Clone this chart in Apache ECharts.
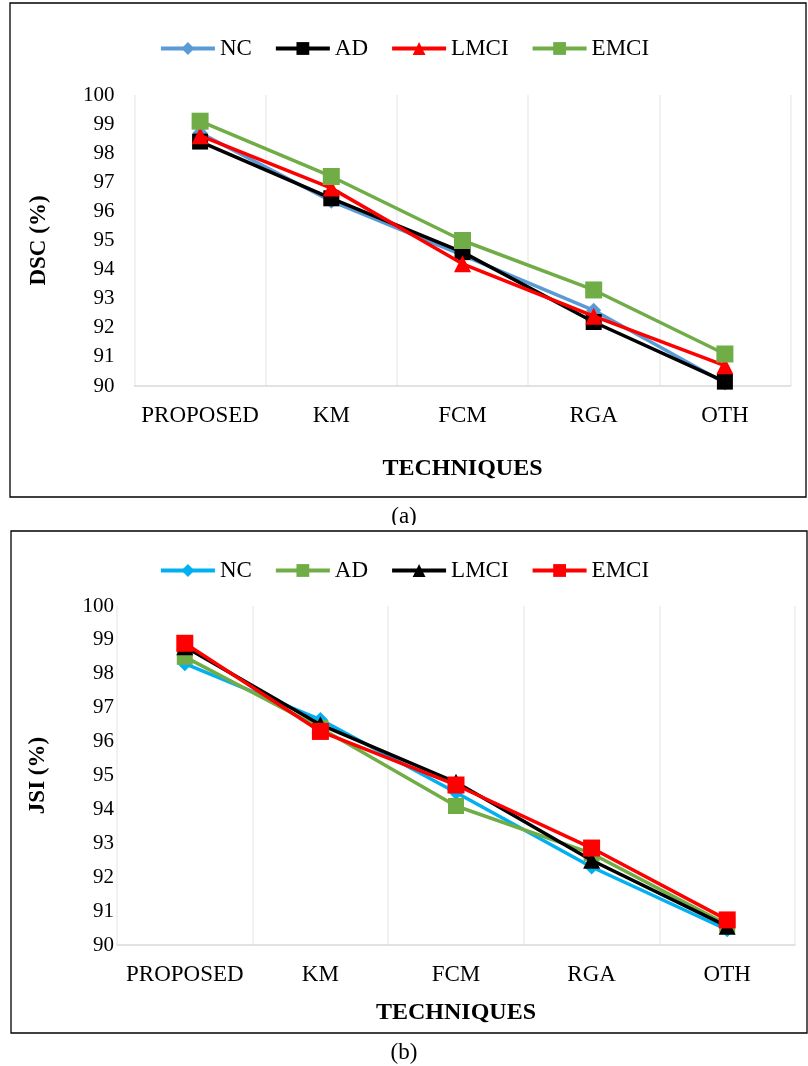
<!DOCTYPE html>
<html><head><meta charset="utf-8">
<script src="https://cdn.jsdelivr.net/npm/echarts@6/dist/echarts.min.js"></script>
<style>body{margin:0;background:#fff;width:808px;height:1066px;overflow:hidden}
#a{position:absolute;left:0;top:0;width:808px;height:525px}
#b{position:absolute;left:0;top:525px;width:808px;height:541px}</style>
</head><body><div id="a"></div><div id="b"></div>
<script>
const categories = ['PROPOSED', 'KM', 'FCM', 'RGA', 'OTH'];
const seriesNames = ['NC', 'AD', 'LMCI', 'EMCI'];
// Chart (a) DSC (%)
const dscNC   = [98.7, 96.35, 94.5, 92.6, 90.1];
const dscAD   = [98.4, 96.45, 94.6, 92.2, 90.15];
const dscLMCI = [98.6, 96.8, 94.2, 92.4, 90.7];
const dscEMCI = [99.1, 97.2, 95.0, 93.3, 91.1];
// Chart (b) JSI (%)
const jsiNC   = [98.3, 96.65, 94.5, 92.3, 90.45];
const jsiAD   = [98.5, 96.4, 94.1, 92.7, 90.6];
const jsiLMCI = [98.8, 96.5, 94.8, 92.5, 90.55];
const jsiEMCI = [98.9, 96.3, 94.72, 92.86, 90.74];
const yTicks = [90, 91, 92, 93, 94, 95, 96, 97, 98, 99, 100];

const FONT = '"Liberation Serif", "Times New Roman", serif';
const symbols = ['diamond', 'rect', 'triangle', 'rect'];
const sizes = [15, 16, 17, 17];

function build(cfg) {
  return {
    animation: false,
    textStyle: { fontFamily: FONT },
    graphic: [
      { type: 'rect', shape: cfg.box, style: { fill: 'none', stroke: '#000', lineWidth: 1.3 }, silent: true },
      { type: 'text', left: 'center', top: cfg.capTop, style: { text: cfg.caption, font: '23px ' + FONT, fill: '#000' } }
    ],
    legend: {
      top: cfg.legendTop, left: 'center', itemWidth: 54, itemHeight: 16, itemGap: 22,
      lineStyle: { width: 4 },
      textStyle: { fontFamily: FONT, fontSize: 23, color: '#000' },
      data: seriesNames
    },
    grid: cfg.grid,
    xAxis: {
      type: 'category', data: categories, boundaryGap: true,
      name: 'TECHNIQUES', nameLocation: 'middle', nameGap: cfg.xNameGap, nameMoveOverlap: false,
      nameTextStyle: { fontFamily: FONT, fontSize: 24, fontWeight: 'bold', color: '#000' },
      axisLine: { lineStyle: { color: '#d9d9d9', width: 1.5 } },
      axisTick: { show: false, interval: 0 },
      axisLabel: { interval: 0, fontFamily: FONT, fontSize: 23, color: '#000', margin: cfg.xLabelMargin },
      splitLine: { show: true, interval: 0, lineStyle: { color: '#ececec', width: 1.5 } }
    },
    yAxis: {
      type: 'value', min: yTicks[0], max: yTicks[yTicks.length - 1], interval: 1,
      name: cfg.yName, nameLocation: 'middle', nameGap: cfg.yNameGap, nameRotate: 90, nameMoveOverlap: false,
      nameTextStyle: { fontFamily: FONT, fontSize: 23, fontWeight: 'bold', color: '#000' },
      axisLine: { show: false }, axisTick: { show: false },
      axisLabel: { fontFamily: FONT, fontSize: 21, color: '#000', margin: cfg.yLabelMargin },
      splitLine: { show: false }
    },
    series: cfg.data.map((d, i) => ({
      name: seriesNames[i], type: 'line', data: d,
      symbol: symbols[i], symbolSize: sizes[i], showSymbol: true,
      lineStyle: { color: cfg.colors[i], width: 3.5 },
      itemStyle: { color: cfg.colors[i], borderWidth: 0 },
      z: cfg.z[i]
    }))
  };
}

const ca = echarts.init(document.getElementById('a'));
ca.setOption(build({
  box: { x: 10, y: 3, width: 796, height: 494 }, caption: '(a)', capTop: 505,
  legendTop: 32,
  grid: { left: 134.5, right: 17.5, top: 95, bottom: 139 },
  xNameGap: 71, xLabelMargin: 18, yName: 'DSC (%)', yNameGap: 84, yLabelMargin: 20,
  colors: ['#5B9BD5', '#000000', '#FF0000', '#70AD47'],
  data: [dscNC, dscAD, dscLMCI, dscEMCI], z: [2, 3, 4, 5]
}));

const cb = echarts.init(document.getElementById('b'));
cb.setOption(build({
  box: { x: 11, y: 6, width: 796, height: 502 }, caption: '(b)', capTop: 516,
  legendTop: 29,
  grid: { left: 117, right: 13, top: 81, bottom: 121 },
  xNameGap: 56, xLabelMargin: 18, yName: 'JSI (%)', yNameGap: 67, yLabelMargin: 3,
  colors: ['#00B0F0', '#70AD47', '#000000', '#FF0000'],
  data: [jsiNC, jsiAD, jsiLMCI, jsiEMCI], z: [2, 3, 4, 5]
}));
</script></body></html>
